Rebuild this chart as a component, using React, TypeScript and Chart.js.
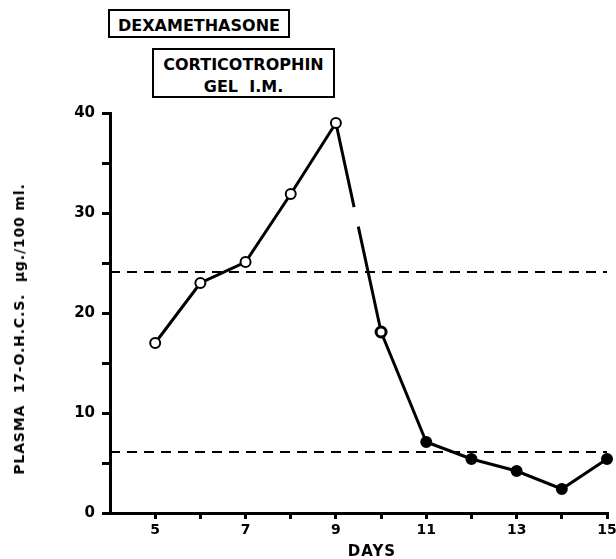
import React, { useEffect, useRef } from "react";
import { Chart, registerables } from "chart.js";

Chart.register(...registerables);

const days = [5, 6, 7, 8, 9, 10, 11, 12, 13, 14, 15];
const plasma = [17.0, 23.0, 25.1, 31.9, 39.0, 18.1, 7.1, 5.4, 4.2, 2.4, 5.4];
const openMarker = [true, true, true, true, true, true, false, false, false, false, false];
const upperNormal = 24.1;
const lowerNormal = 6.1;
const xRange = [4, 15];
const yRange = [0, 40];
const xLabelled = [5, 7, 9, 11, 13, 15];
const yLabelled = [0, 10, 20, 30, 40];

const FONT = "'DejaVu Sans', sans-serif";

export default function App() {
  const ref = useRef<HTMLCanvasElement | null>(null);

  useEffect(() => {
    if (!ref.current) return;
    const mainData = days.map((d, i) => ({ x: d, y: plasma[i] }));
    const chart = new Chart(ref.current, {
      type: "line",
      data: {
        datasets: [
          {
            label: "upper",
            data: [
              { x: xRange[0], y: upperNormal },
              { x: xRange[1], y: upperNormal },
            ],
            borderColor: "#000",
            borderWidth: 2,
            borderDash: [10, 7],
            pointRadius: 0,
            clip: false,
          },
          {
            label: "lower",
            data: [
              { x: xRange[0], y: lowerNormal },
              { x: xRange[1], y: lowerNormal },
            ],
            borderColor: "#000",
            borderWidth: 2,
            borderDash: [10, 7],
            pointRadius: 0,
            clip: false,
          },
          {
            label: "plasma",
            data: mainData,
            borderColor: "#000",
            borderWidth: 3,
            pointRadius: 5,
            pointBorderWidth: days.map((d, i) => (i === 5 ? 3 : 2)),
            pointBorderColor: "#000",
            pointBackgroundColor: openMarker.map((o) => (o ? "#fff" : "#000")),
            clip: false,
            segment: {
              borderDash: (ctx: any) => (ctx.p0DataIndex === 4 ? [86, 20, 300] : undefined),
            },
          } as any,
        ],
      },
      options: {
        responsive: false,
        animation: false,
        devicePixelRatio: 1,
        layout: { padding: { top: 113, right: 9, left: 0, bottom: 0 } },
        plugins: { legend: { display: false }, tooltip: { enabled: false } },
        scales: {
          x: {
            type: "linear",
            min: xRange[0],
            max: xRange[1],
            afterFit: (s: any) => {
              s.height = 46;
              s.paddingLeft = 0;
              s.paddingRight = 0;
            },
            ticks: {
              stepSize: 1,
              autoSkip: false,
              maxRotation: 0,
              color: "#000",
              padding: 3,
              font: { family: FONT, weight: "bold", size: 14 },
              callback: (v: any) => {
                if (v === xRange[0]) return null;
                return xLabelled.includes(v) ? String(v) : "";
              },
            },
            grid: {
              display: true,
              drawOnChartArea: false,
              drawTicks: true,
              tickLength: 6,
              color: "#000",
              lineWidth: 3,
            },
            border: { display: true, color: "#000", width: 3 },
          },
          y: {
            type: "linear",
            min: yRange[0],
            max: yRange[1],
            afterFit: (s: any) => {
              s.width = 110;
            },
            ticks: {
              stepSize: 5,
              autoSkip: false,
              color: "#000",
              padding: 7,
              font: { family: FONT, weight: "bold", size: 15 },
              callback: (v: any) => (yLabelled.includes(v) ? String(v) : ""),
            },
            grid: {
              display: true,
              drawOnChartArea: false,
              drawTicks: true,
              tickLength: 8,
              color: "#000",
              lineWidth: 3,
            },
            border: { display: true, color: "#000", width: 3 },
          },
        },
      },
    });
    return () => chart.destroy();
  }, []);

  const boxText: React.CSSProperties = {
    position: "absolute",
    border: "2px solid #000",
    boxSizing: "border-box",
    fontFamily: FONT,
    fontWeight: "bold",
    fontSize: 16,
    color: "#000",
    textAlign: "center",
    background: "#fff",
    whiteSpace: "pre",
  };

  const rotated: React.CSSProperties = {
    position: "absolute",
    fontFamily: FONT,
    fontWeight: "bold",
    whiteSpace: "pre",
    color: "#000",
  };

  return (
    <div style={{ position: "absolute", left: 0, top: 0, width: 616, height: 559, background: "#fff" }}>
      <canvas ref={ref} width={616} height={559} style={{ width: 616, height: 559, display: "block" }} />
      <div style={{ ...boxText, left: 108, top: 9, width: 182, height: 29, lineHeight: "25px", paddingTop: 2 }}>
        DEXAMETHASONE
      </div>
      <div style={{ ...boxText, left: 152, top: 48, width: 183, height: 50, lineHeight: "22px", paddingTop: 4 }}>
        {"CORTICOTROPHIN\nGEL  I.M."}
      </div>
      <div
        style={{
          ...rotated,
          left: 19,
          top: 329,
          transform: "translate(-50%, -50%) rotate(-90deg)",
          fontSize: 14,
          letterSpacing: 0.85,
        }}
      >
        {"PLASMA  17-O.H.C.S.  µg./100 ml."}
      </div>
      <div
        style={{
          ...rotated,
          left: 372,
          top: 551,
          transform: "translate(-50%, -50%)",
          fontSize: 15,
          letterSpacing: 1,
        }}
      >
        DAYS
      </div>
    </div>
  );
}
